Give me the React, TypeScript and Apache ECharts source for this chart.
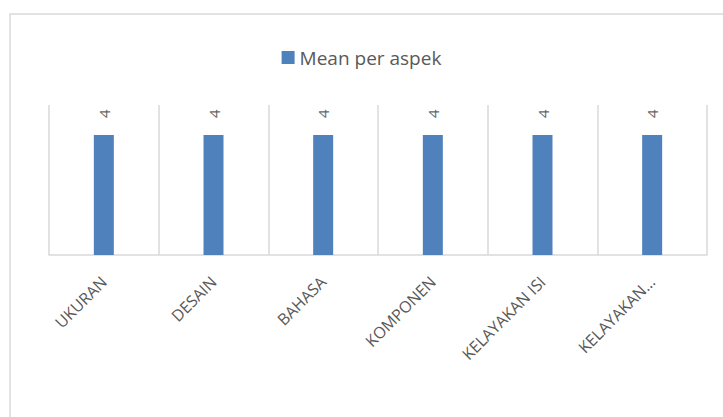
import React, { useEffect, useRef } from "react";
import * as echarts from "echarts";

const categories = ["UKURAN", "DESAIN", "BAHASA", "KOMPONEN", "KELAYAKAN ISI", "KELAYAKAN…"];
const meanValues = [4, 4, 4, 4, 4, 4];
const seriesName = "Mean per aspek";

export default function App() {
  const ref = useRef<HTMLDivElement>(null);
  useEffect(() => {
    if (!ref.current) return;
    const chart = echarts.init(ref.current, null, { renderer: "svg" });
    chart.setOption({
      animation: false,
      backgroundColor: "#ffffff",
      graphic: [
        {
          type: "rect",
          shape: { x: 10, y: 14, width: 760, height: 460 },
          style: { fill: "none", stroke: "#d9d9d9", lineWidth: 1.5 },
          silent: true,
        },
      ],
      legend: {
        show: true,
        top: 43,
        left: "center",
        itemWidth: 13,
        itemHeight: 13,
        itemGap: 10,
        icon: "rect",
        textStyle: { fontSize: 19, color: "#595959", fontFamily: "Open Sans" },
        data: [seriesName],
      },
      grid: { left: 49, right: 16, top: 105, bottom: 162, containLabel: false },
      xAxis: {
        type: "category",
        data: categories,
        boundaryGap: true,
        axisLine: { show: true, lineStyle: { color: "#d9d9d9", width: 1.5 } },
        axisTick: { show: false },
        splitLine: { show: true, lineStyle: { color: "#d9d9d9", width: 1.5 } },
        axisLabel: {
          rotate: 45,
          interval: 0,
          margin: 24,
          fontSize: 16,
          color: "#595959",
          fontFamily: "Open Sans",
        },
      },
      yAxis: {
        type: "value",
        min: 0,
        max: 5,
        show: false,
        splitLine: { show: false },
      },
      series: [
        {
          name: seriesName,
          type: "bar",
          data: meanValues,
          barWidth: 20,
          itemStyle: { color: "#4f81bd" },
          label: {
            show: true,
            position: "top",
            distance: 17,
            rotate: 90,
            align: "left",
            verticalAlign: "middle",
            fontSize: 15,
            color: "#666666",
            fontFamily: "Open Sans",
          },
        },
      ],
    });
    return () => chart.dispose();
  }, []);
  return (
    <div
      ref={ref}
      style={{ position: "fixed", left: 0, top: 0, width: 723, height: 417 }}
    />
  );
}
